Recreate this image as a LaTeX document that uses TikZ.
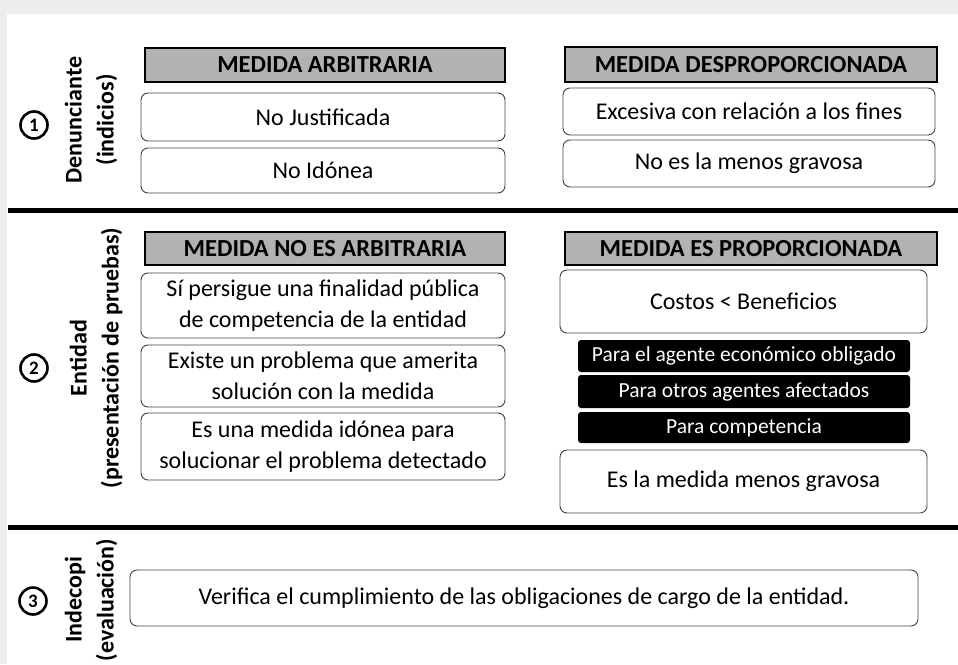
\documentclass[tikz,border=0pt]{standalone}
\usepackage{fontspec}
\setmainfont{Carlito}
\begin{document}
\begin{tikzpicture}
[x=1pt,y=-1pt,
  headdecorate/.style={draw=black,line width=2.5pt,fill=gray!60,inner sep=0pt,
    font=\fontsize{24.5}{28}\selectfont\bfseries},%
  boxdecorate/.style={draw=black!75,line width=0.9pt,rounded corners=7pt,inner sep=0pt,
    align=center,font=\fontsize{24}{31}\selectfont},%
  darkdecorate/.style={fill=black,rounded corners=3pt,inner sep=0pt,text=white,
    minimum width=332,font=\fontsize{21.5}{25}\selectfont},%
  numdecorate/.style={shape=circle,draw,line width=2.6pt,inner sep=0pt,minimum size=27,
    font=\fontsize{19}{19}\selectfont\bfseries},%
  roledecorate/.style={rotate=90,align=center,inner sep=0pt,
    font=\fontsize{24}{32}\selectfont\bfseries},%
  linedecorate/.style={-,line width=5pt}]
\useasboundingbox (0,0) rectangle (958,664);
%% scan border
\fill[gray!15] (0,0) rectangle (958,14);
\fill[gray!15] (0,0) rectangle (7,664);
%% denunciante
\node (n1) at (34,125) [numdecorate] {1};
\node (r1) at (91,120) [roledecorate] {Denunciante\\(indicios)};
\node (hA) at (325,65) [headdecorate,minimum width=360,minimum height=34] {MEDIDA ARBITRARIA};
\node (hD) at (751,64.5) [headdecorate,minimum width=372,minimum height=35] {MEDIDA DESPROPORCIONADA};
\node (bA1) at (323,117) [boxdecorate,minimum width=364,minimum height=48] {No Justificada};
\node (bA2) at (323,170.5) [boxdecorate,minimum width=364,minimum height=45] {No Idónea};
\node (bD1) at (749,111.5) [boxdecorate,minimum width=372,minimum height=47] {Excesiva con relación a los fines};
\node (bD2) at (749,163.5) [boxdecorate,minimum width=372,minimum height=47] {No es la menos gravosa};
%% entidad
\node (n2) at (34,368) [numdecorate] {2};
\node (r2) at (96,358) [roledecorate] {Entidad\\(presentación de pruebas)};
\node (hN) at (325,248.5) [headdecorate,minimum width=360,minimum height=33] {MEDIDA NO ES ARBITRARIA};
\node (hP) at (751,248.5) [headdecorate,minimum width=372,minimum height=33] {MEDIDA ES PROPORCIONADA};
\node (bN1) at (323,305.5) [boxdecorate,minimum width=364,minimum height=65] {Sí persigue una finalidad pública\\de competencia de la entidad};
\node (bN2) at (323,376) [boxdecorate,minimum width=364,minimum height=62] {Existe un problema que amerita\\solución con la medida};
\node (bN3) at (323,446.5) [boxdecorate,minimum width=364,minimum height=67] {Es una medida idónea para\\solucionar el problema detectado};
\node (bP1) at (743.5,301.5) [boxdecorate,minimum width=367,minimum height=63] {Costos < Beneficios};
\node (k1) at (744,356) [darkdecorate,minimum height=32] {Para el agente económico obligado};
\node (k2) at (744,391.5) [darkdecorate,minimum height=33] {Para otros agentes afectados};
\node (k3) at (744,427.5) [darkdecorate,minimum height=31] {Para competencia};
\node (bP2) at (743.5,481.5) [boxdecorate,minimum width=367,minimum height=63] {Es la medida menos gravosa};
%% indecopi
\node (n3) at (33,601) [numdecorate] {3};
\node (r3) at (91,600) [roledecorate] {Indecopi\\(evaluación)};
\node (bV) at (524,598) [boxdecorate,minimum width=788,minimum height=56] {Verifica el cumplimiento de las obligaciones de cargo de la entidad.};
%% separators
\coordinate (s1a) at (8,210);
\coordinate (s1b) at (958,210);
\coordinate (s2a) at (8,527);
\coordinate (s2b) at (958,527);
\path
(s1a) edge[linedecorate] (s1b)
(s2a) edge[linedecorate] (s2b);
\end{tikzpicture}
\end{document}
